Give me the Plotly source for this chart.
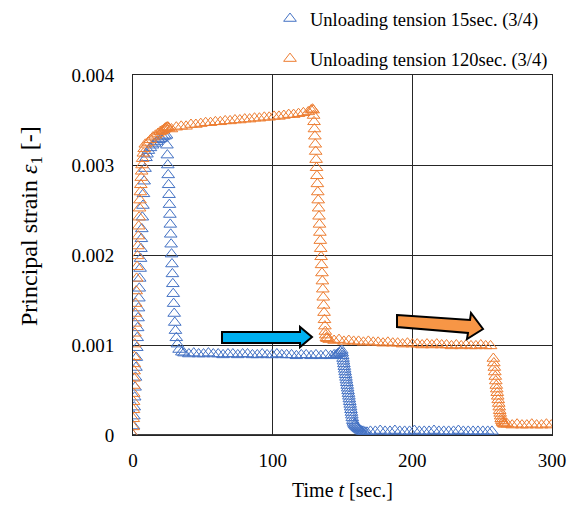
import plotly.graph_objects as go

# ---------------- data ----------------
name_15 = "Unloading tension 15sec. (3/4)"
name_120 = "Unloading tension 120sec. (3/4)"

# 15 sec series (blue)
t15_rise = [0.0, 0.3, 0.6, 0.9, 1.2, 1.5, 1.8, 2.1, 2.4, 2.7, 3.0, 3.3, 3.6, 3.9, 4.2,
            4.5, 4.8, 5.1, 5.4, 5.7, 6.0, 6.3, 6.7, 7.1, 7.5, 8.0, 8.6, 9.3]
s15_rise = [0.00000, 0.00010, 0.00021, 0.00031, 0.00042, 0.00053, 0.00064, 0.00075,
            0.00086, 0.00097, 0.00108, 0.00119, 0.00130, 0.00141, 0.00152, 0.00163,
            0.00174, 0.00185, 0.00196, 0.00207, 0.00218, 0.00229, 0.00242, 0.00255,
            0.00268, 0.00282, 0.00296, 0.00308]
t15_hold = [10.0, 11.0, 12.5, 14.0, 15.5, 17.0, 18.5, 20.0, 21.5, 23.0]
s15_hold = [0.00312, 0.00316, 0.00319, 0.00322, 0.00324, 0.00326, 0.00328, 0.00329,
            0.00331, 0.00332]
t15_drop1 = [24.0, 24.3, 24.6, 24.9, 25.2, 25.5, 25.8, 26.1, 26.4, 26.7, 27.0, 27.3,
             27.6, 27.9, 28.2, 28.5, 28.8, 29.1, 29.5, 29.9, 30.4, 31.0, 31.8, 33.0, 35.0]
s15_drop1 = [0.00333, 0.00322, 0.00311, 0.00300, 0.00289, 0.00278, 0.00267, 0.00256,
             0.00245, 0.00234, 0.00223, 0.00212, 0.00201, 0.00190, 0.00179, 0.00168,
             0.00157, 0.00146, 0.00135, 0.00125, 0.00116, 0.00108, 0.00101, 0.00095,
             0.00092]
t15_flat1 = [36.5, 40.0, 43.5, 47.0, 50.5, 54.0, 57.5, 61.0, 64.5, 68.0, 71.5, 75.0,
             78.5, 82.0, 85.5, 89.0, 92.5, 96.0, 99.5, 103.0, 106.5, 110.0, 113.5,
             117.0, 120.5, 124.0, 127.5, 131.0, 134.5, 138.0, 141.5, 144.0, 145.5,
             146.5, 147.5, 148.5]
s15_flat1 = [0.00091, 0.00090, 0.00091, 0.00090, 0.00090, 0.00091, 0.00090, 0.00090,
             0.00089, 0.00090, 0.00090, 0.00089, 0.00090, 0.00090, 0.00089, 0.00089,
             0.00090, 0.00089, 0.00089, 0.00090, 0.00089, 0.00089, 0.00089, 0.00088,
             0.00089, 0.00089, 0.00088, 0.00089, 0.00088, 0.00089, 0.00088, 0.00089,
             0.00089, 0.00090, 0.00091, 0.00093]
t15_drop2 = [149.5, 149.8, 150.1, 150.4, 150.7, 151.0, 151.3, 151.6, 151.9, 152.2,
             152.5, 152.8, 153.1, 153.4, 153.7, 154.0, 154.3, 154.6, 154.9, 155.2,
             155.5, 155.8, 156.1, 156.4, 156.7, 157.0, 157.4, 157.8, 158.3, 158.8,
             159.4, 160.0, 160.7, 161.4, 162.2, 163.0, 164.0, 165.0, 166.2, 167.5]
s15_drop2 = [0.00094, 0.00091, 0.00088, 0.00085, 0.00082, 0.00079, 0.00076, 0.00073,
             0.00070, 0.00067, 0.00064, 0.00061, 0.00058, 0.00055, 0.00052, 0.00049,
             0.00046, 0.00043, 0.00040, 0.00037, 0.00034, 0.00031, 0.00028, 0.00025,
             0.00022, 0.00019, 0.00016, 0.00014, 0.00012, 0.00011, 0.00010, 0.00009,
             0.00008, 0.00007, 0.00006, 0.00005, 0.00004, 0.00004, 0.00003, 0.00003]
t15_flat2 = [170.0, 173.5, 177.0, 180.5, 184.0, 187.5, 191.0, 194.5, 198.0, 201.5,
             205.0, 208.5, 212.0, 215.5, 219.0, 222.5, 226.0, 229.5, 233.0, 236.5,
             240.0, 243.5, 247.0, 250.5, 254.0, 257.0]
s15_flat2 = [0.00004, 0.00004, 0.00005, 0.00004, 0.00004, 0.00005, 0.00004, 0.00004,
             0.00004, 0.00005, 0.00004, 0.00004, 0.00004, 0.00005, 0.00004, 0.00004,
             0.00004, 0.00004, 0.00005, 0.00004, 0.00004, 0.00004, 0.00004, 0.00004,
             0.00004, 0.00004]

# 120 sec series (orange)
t120_rise = [0.0, 0.1, 0.2, 0.3, 0.4, 0.5, 0.6, 0.7, 0.8, 0.9, 1.0, 1.2, 1.4, 1.6, 1.8,
             2.0, 2.3, 2.6, 2.9, 3.2, 3.5, 3.8, 4.1, 4.4, 4.7, 5.0, 5.3, 5.6, 5.9, 6.2,
             6.5, 6.9, 7.4, 8.0, 8.8]
s120_rise = [0.00000, 0.00009, 0.00018, 0.00028, 0.00037, 0.00046, 0.00055, 0.00063,
             0.00071, 0.00079, 0.00087, 0.00101, 0.00113, 0.00124, 0.00135, 0.00146,
             0.00160, 0.00174, 0.00187, 0.00199, 0.00210, 0.00221, 0.00232, 0.00242,
             0.00252, 0.00261, 0.00270, 0.00278, 0.00286, 0.00293, 0.00300, 0.00307,
             0.00313, 0.00318, 0.00323]
t120_knee = [10.7, 12.5, 14.3, 16.1, 17.9, 19.5, 20.8, 21.8, 22.5, 23.2, 23.8, 24.4,
             25.0, 25.6]
s120_knee = [0.00325, 0.00328, 0.00331, 0.00333, 0.00335, 0.00337, 0.00338, 0.00339,
             0.00340, 0.00341, 0.00341, 0.00342, 0.00342, 0.00341]
t120_hold = [27.5, 31.0, 34.5, 38.0, 41.5, 45.0, 48.5, 52.0, 55.5, 59.0, 62.5, 66.0,
             69.5, 73.0, 76.5, 80.0, 83.5, 87.0, 90.5, 94.0, 97.5, 101.0, 104.5, 108.0,
             111.5, 115.0, 118.5, 122.0, 125.5, 127.5, 128.5]
s120_hold = [0.00340, 0.00342, 0.00343, 0.00343, 0.00345, 0.00345, 0.00346, 0.00347,
             0.00347, 0.00348, 0.00348, 0.00349, 0.00349, 0.00350, 0.00350, 0.00351,
             0.00351, 0.00352, 0.00352, 0.00353, 0.00353, 0.00354, 0.00354, 0.00355,
             0.00356, 0.00356, 0.00357, 0.00358, 0.00359, 0.00361, 0.00362]
t120_drop1 = [129.0, 129.3, 129.6, 129.9, 130.2, 130.5, 130.8, 131.1, 131.4, 131.7,
              132.0, 132.3, 132.6, 132.9, 133.2, 133.5, 133.8, 134.1, 134.4, 134.7,
              135.0, 135.3, 135.6, 135.9, 136.2, 136.5, 136.8, 137.1, 137.4, 137.7,
              138.0, 138.5, 139.0]
s120_drop1 = [0.00361, 0.00355, 0.00348, 0.00340, 0.00332, 0.00323, 0.00315, 0.00306,
              0.00297, 0.00288, 0.00279, 0.00270, 0.00261, 0.00252, 0.00243, 0.00234,
              0.00225, 0.00216, 0.00207, 0.00198, 0.00189, 0.00180, 0.00171, 0.00162,
              0.00153, 0.00144, 0.00136, 0.00128, 0.00121, 0.00115, 0.00111, 0.00108,
              0.00107]
t120_flat1 = [140.5, 144.0, 147.5, 151.0, 154.5, 158.0, 161.5, 165.0, 168.5, 172.0,
              175.5, 179.0, 182.5, 186.0, 189.5, 193.0, 196.5, 200.0, 203.5, 207.0,
              210.5, 214.0, 217.5, 221.0, 224.5, 228.0, 231.5, 235.0, 238.5, 242.0,
              245.5, 249.0, 252.5, 256.0]
s120_flat1 = [0.00106, 0.00105, 0.00106, 0.00104, 0.00105, 0.00104, 0.00104, 0.00103,
              0.00104, 0.00103, 0.00103, 0.00102, 0.00103, 0.00102, 0.00102, 0.00101,
              0.00102, 0.00101, 0.00101, 0.00100, 0.00101, 0.00100, 0.00101, 0.00100,
              0.00100, 0.00099, 0.00100, 0.00099, 0.00100, 0.00099, 0.00099, 0.00100,
              0.00099, 0.00099]
t120_drop2 = [258.0, 258.35, 258.7, 259.05, 259.4, 259.75, 260.1, 260.45, 260.8, 261.15,
              261.5, 261.85, 262.2, 262.55, 262.9, 263.25, 263.6, 264.0, 264.5, 265.0,
              265.6, 266.3]
s120_drop2 = [0.00085, 0.00080, 0.00075, 0.00070, 0.00065, 0.00060, 0.00055, 0.00051,
              0.00047, 0.00043, 0.00039, 0.00035, 0.00031, 0.00027, 0.00024, 0.00021,
              0.00018, 0.00016, 0.00014, 0.00013, 0.00012, 0.00012]
t120_flat2 = [268.0, 271.5, 275.0, 278.5, 282.0, 285.5, 289.0, 292.5, 296.0, 299.5]
s120_flat2 = [0.00012, 0.00011, 0.00012, 0.00011, 0.00011, 0.00012, 0.00011, 0.00011,
              0.00012, 0.00011]

x_ticks = [0, 100, 200, 300]
y_ticks = [0, 0.001, 0.002, 0.003, 0.004]
y_ticktext = ["0", "0.001", "0.002", "0.003", "0.004"]

t15 = t15_rise + t15_hold + t15_drop1 + t15_flat1 + t15_drop2 + t15_flat2
s15 = s15_rise + s15_hold + s15_drop1 + s15_flat1 + s15_drop2 + s15_flat2
t120 = t120_rise + t120_knee + t120_hold + t120_drop1 + t120_flat1 + t120_drop2 + t120_flat2
s120 = s120_rise + s120_knee + s120_hold + s120_drop1 + s120_flat1 + s120_drop2 + s120_flat2

# ---------------- figure ----------------
FONT = "Liberation Serif"
BLUE = "#4472C4"
ORANGE = "#ED7D31"

fig = go.Figure()
fig.add_trace(go.Scatter(
    x=t15, y=s15, mode="markers", name=name_15, legendgroup="a",
    marker=dict(symbol="triangle-up-open", size=11, color=BLUE, line=dict(width=1, color=BLUE)),
))
fig.add_trace(go.Scatter(
    x=t120, y=s120, mode="markers", name=name_120, legendgroup="b",
    marker=dict(symbol="triangle-up-open", size=11, color=ORANGE, line=dict(width=1, color=ORANGE)),
))

W, H = 579, 507
L, R, T, B = 133, 27, 75, 72
PW, PH = W - L - R, H - T - B


def px(x, y):
    return (x - L) / PW, (H - B - y) / PH


def path(points):
    pts = [px(x, y) for x, y in points]
    return "M " + " L ".join(f"{a:.4f},{b:.4f}" for a, b in pts) + " Z"


blue_arrow = [(222, 332), (300, 332), (300, 327), (312, 337), (300, 347), (300, 343), (222, 343)]
orange_arrow = [(397, 315), (470, 320), (471, 313), (483, 329), (467, 339), (468, 333), (397, 327)]

shapes = [
    dict(type="path", xref="paper", yref="paper", path=path(blue_arrow),
         fillcolor="#00B0F0", line=dict(color="black", width=2)),
    dict(type="path", xref="paper", yref="paper", path=path(orange_arrow),
         fillcolor="#F79646", line=dict(color="black", width=2)),
]

fig.update_layout(
    width=W, height=H,
    margin=dict(l=L, r=R, t=T, b=B, autoexpand=False),
    paper_bgcolor="white", plot_bgcolor="white",
    font=dict(family=FONT, size=18, color="black"),
    showlegend=True,
    legend=dict(x=(270 - L) / PW, y=(H - B - 0) / PH, xanchor="left", yanchor="top",
                font=dict(family=FONT, size=18.5, color="black"),
                bgcolor="rgba(0,0,0,0)", tracegroupgap=13, itemwidth=30),
    shapes=shapes,
    annotations=[dict(
        text="Principal strain <i>ε</i><sub>1</sub> [-]", textangle=-90,
        xref="paper", yref="paper", x=(31 - L) / PW, y=(H - B - 226) / PH,
        xanchor="center", yanchor="middle", showarrow=False,
        font=dict(family=FONT, size=24, color="black"))],
)
fig.update_xaxes(
    range=[0, 300], tickvals=x_ticks, ticktext=[str(v) for v in x_ticks],
    showgrid=True, gridcolor="#262626", gridwidth=1,
    showline=True, linecolor="#262626", linewidth=1, mirror=True,
    zeroline=False, ticks="", ticklabelstandoff=8,
    tickfont=dict(family=FONT, size=19, color="black"),
    title=dict(text="Time <i>t</i> [sec.]", font=dict(family=FONT, size=20, color="black"), standoff=13),
)
fig.update_yaxes(
    range=[0, 0.004], tickvals=y_ticks, ticktext=y_ticktext,
    showgrid=True, gridcolor="#262626", gridwidth=1,
    showline=True, linecolor="#262626", linewidth=1, mirror=True,
    zeroline=False, ticks="", ticklabelstandoff=14,
    tickfont=dict(family=FONT, size=19, color="black"),
)
fig.add_hline(y=0, line=dict(color="#404040", width=2), layer="below")

fig.write_html("out.html")
